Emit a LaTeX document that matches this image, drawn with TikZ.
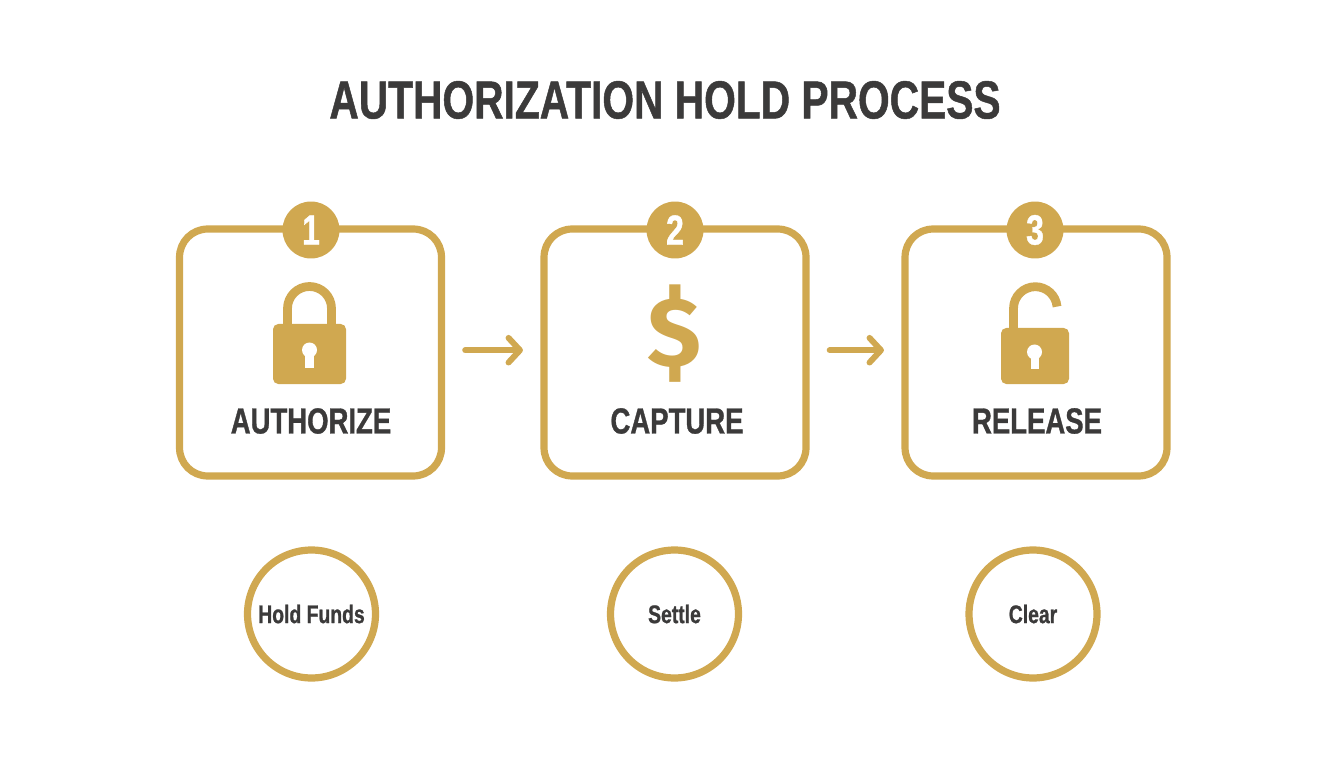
\documentclass[tikz,border=0pt]{standalone}
\usepackage{fontspec}
\usepackage{xcolor}
\usetikzlibrary{arrows.meta}
\setmainfont{Liberation Sans}[FakeStretch=0.76, FakeBold=0.9]
\newfontfamily\dollarfont{Fira Sans}
\definecolor{gold}{HTML}{D0A850}
\definecolor{ink}{HTML}{3B3A3A}
\tikzset{
    stepbox/.style={draw=gold, line width=4.1pt, rounded corners=16pt, minimum width=5.24cm, minimum height=4.94cm, outer sep=0pt, fill=white},
    badge/.style={circle, fill=gold, minimum size=1.14cm, inner sep=0pt, text=white, font=\fontsize{24}{24}\selectfont\bfseries},
    steplabel/.style={text=ink, inner sep=0pt, font=\fontsize{20.6}{21}\selectfont\bfseries},
    resultring/.style={circle, draw=gold, line width=4.1pt, minimum size=2.56cm, inner sep=0pt, text=ink, font=\fontsize{14.5}{16}\selectfont\bfseries},
    flowarrow/.style={draw=gold, line width=3.4pt, line cap=round, -{Straight Barb[length=6.5pt, width=14pt, round]}, shorten <=13.5pt, shorten >=12pt},
    lockbody/.style={fill=gold, rounded corners=3pt},
    shackle/.style={draw=gold, line width=5pt},
    keyhole/.style={fill=white}
}
\begin{document}
\begin{tikzpicture}[x=0.02cm, y=0.02cm]
    \useasboundingbox (0,0) rectangle (1344,768);

    % Title
    \node[text=ink, inner sep=0pt, font=\fontsize{30.5}{31}\selectfont\bfseries] (title) at (665,668) {AUTHORIZATION HOLD PROCESS};

    % Step boxes
    \node[stepbox] (authorizebox) at (310.5,415.5) {};
    \node[stepbox] (capturebox) at (675,415.5) {};
    \node[stepbox] (releasebox) at (1036,415.5) {};

    % Number badges
    \node[badge] (one) at (311,538) {1};
    \node[badge] (two) at (675,538) {2};
    \node[badge] (three) at (1035,538) {3};

    % Closed lock
    \draw[shackle] (287.5,444) -- (287.5,459.5) arc (180:0:22) -- (331.5,444);
    \fill[lockbody] (273,384) rectangle (346,444);
    \fill[keyhole] (309.5,418) circle (7.5);
    \fill[keyhole] (305,400) rectangle (314,418);

    % Dollar
    \node[text=gold, inner sep=0pt, font=\fontsize{56}{56}\dollarfont\bfseries] (dollar) at (674.5,434) {\$};

    % Open lock
    \draw[shackle] (1013.5,440) -- (1013.5,459.5) arc (180:5:21.8);
    \fill[lockbody] (1001,384) rectangle (1069,440);
    \fill[keyhole] (1034.5,416) circle (7.5);
    \fill[keyhole] (1030.5,399) rectangle (1038.5,416);

    % Step labels
    \node[steplabel] (authorize) at (311,347) {AUTHORIZE};
    \node[steplabel] (capture) at (677,347) {CAPTURE};
    \node[steplabel] (release) at (1037,347) {RELEASE};

    % Arrows
    \draw[flowarrow] ([yshift=1.3pt]authorizebox.east) -- ([yshift=1.3pt]capturebox.west);
    \draw[flowarrow] ([yshift=1.3pt]capturebox.east) -- ([yshift=1.3pt]releasebox.west);

    % Result rings
    \node[resultring] (holdfunds) at (311.5,154) {Hold Funds};
    \node[resultring] (settle) at (674.5,154) {Settle};
    \node[resultring] (clear) at (1033,154) {Clear};
\end{tikzpicture}
\end{document}
